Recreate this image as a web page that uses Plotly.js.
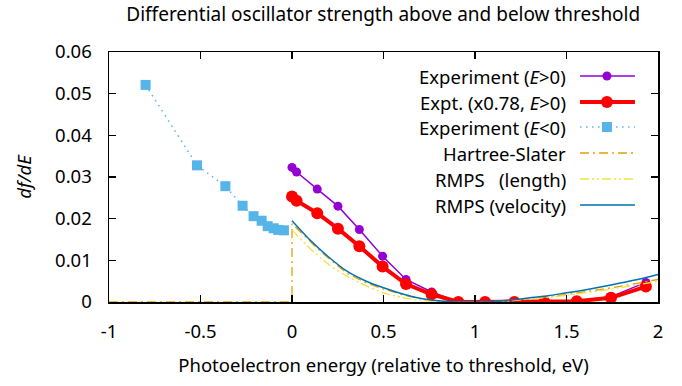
<!DOCTYPE html>
<html><head><meta charset="utf-8">
<script src="https://cdn.plot.ly/plotly-3.0.1.min.js"></script>
<style>body{margin:0;background:#fff}#c{width:682px;height:386px}</style>
</head><body><div id="c"></div>
<script>
// Experiment E>0
const expX = [0, 0.025, 0.138, 0.251, 0.368, 0.495, 0.623, 0.763, 0.909, 1.055, 1.215, 1.379, 1.556, 1.743, 1.934];
const expY = [0.0323, 0.0312, 0.0271, 0.0230, 0.0174, 0.0110, 0.0054, 0.0024, 0, 0, 0, 0, 0.0002, 0.0013, 0.0047];
// Expt. scaled x0.78
const scaledY = [0.0253, 0.0243, 0.0213, 0.0176, 0.0134, 0.0085, 0.0043, 0.00185, 0, 0, 0, 0, 0.0002, 0.0010, 0.0037];
// Experiment E<0
const negX = [-0.80, -0.519, -0.364, -0.27, -0.21, -0.166, -0.133, -0.10, -0.075, -0.044];
const negY = [0.0521, 0.0328, 0.0278, 0.0231, 0.0206, 0.0195, 0.0182, 0.0177, 0.0173, 0.0172];
// Theory
const hsX = [-1, 0, 0, 0.05, 0.1, 0.15, 0.2, 0.25, 0.3, 0.4, 0.5, 0.6, 0.7, 0.8, 0.9, 1.0, 1.1, 1.2, 1.3, 1.4, 1.5, 1.6, 1.7, 1.8, 1.9, 2.0];
const hsY = [0, 0, 0.0188, 0.0166, 0.0145, 0.0124, 0.0105, 0.0086, 0.0069, 0.0047, 0.0031, 0.0018, 0.0008, 0.0002, 0, 0, 0.0001, 0.0004, 0.0008, 0.0013, 0.0018, 0.0024, 0.0031, 0.0038, 0.0046, 0.0054];
const thX = [0, 0.1, 0.2, 0.3, 0.4, 0.5, 0.6, 0.7, 0.8, 0.9, 1.0, 1.1, 1.2, 1.3, 1.4, 1.5, 1.6, 1.7, 1.8, 1.9, 2.0];
const lenY = [0.0173, 0.0128, 0.0090, 0.0062, 0.0040, 0.0022, 0.0011, 0.0004, 0.0001, 0, 0, 0.0001, 0.0003, 0.0007, 0.0011, 0.0016, 0.0022, 0.0028, 0.0035, 0.0042, 0.0050];
const velY = [0.0195, 0.0148, 0.0108, 0.0074, 0.0051, 0.0034, 0.0020, 0.0009, 0.0003, 0, 0, 0.0001, 0.0005, 0.0010, 0.0015, 0.0022, 0.0029, 0.0037, 0.0046, 0.0055, 0.0066];
// Legend
const legendNames = ["Experiment (<i>E</i>>0)", "Expt. (x0.78, <i>E</i>>0)", "Experiment (<i>E</i><0)", "Hartree-Slater", "RMPS   (length)", "RMPS (velocity)"];

const FS = 18.5;
const C = {purple:'#9400D3', red:'#FF0000', sky:'#56B4E9', orange:'#E69F00', yellow:'#F0E442', blue:'#0072B2'};
const styles = [
  {mode:'lines+markers', line:{color:C.purple, width:1.5}, marker:{color:C.purple, size:9, symbol:'circle'}},
  {mode:'lines+markers', line:{color:C.red, width:4}, marker:{color:C.red, size:12, symbol:'circle'}},
  {mode:'lines+markers', line:{color:C.sky, width:1.5, dash:'1.5px,4.5px'}, marker:{color:C.sky, size:10, symbol:'square'}},
  {mode:'lines', line:{color:C.orange, width:1.3, dash:'9px,4px,2px,4px'}},
  {mode:'lines', line:{color:C.yellow, width:1.3, dash:'9px,3px,2px,3px,2px,3px', shape:'spline', smoothing:0.6}},
  {mode:'lines', line:{color:C.blue, width:1.5, shape:'spline', smoothing:0.6}}
];
const dataSets = [[expX, expY], [expX, scaledY], [negX, negY], [hsX, hsY], [thX, lenY], [thX, velY]];

const traces = dataSets.map((d, i) => Object.assign({type:'scatter', x:d[0], y:d[1], showlegend:false, hoverinfo:'skip'}, JSON.parse(JSON.stringify(styles[i]))));

// legend samples on an overlay axis
const rowY = [0.904, 0.80, 0.70, 0.596, 0.492, 0.388];
const annotations = [];
rowY.forEach((ry, i) => {
  const s = JSON.parse(JSON.stringify(styles[i]));
  if (s.line) { delete s.line.shape; delete s.line.smoothing; }
  if (s.mode === 'lines+markers') {
    traces.push({type:'scatter', x:[0.858, 0.958], y:[ry, ry], xaxis:'x2', yaxis:'y2', mode:'lines', line:s.line, showlegend:false, hoverinfo:'skip'});
    traces.push({type:'scatter', x:[0.907], y:[ry], xaxis:'x2', yaxis:'y2', mode:'markers', marker:s.marker, showlegend:false, hoverinfo:'skip'});
  } else {
    traces.push(Object.assign({type:'scatter', x:[0.858, 0.958], y:[ry, ry], xaxis:'x2', yaxis:'y2', showlegend:false, hoverinfo:'skip'}, s));
  }
  annotations.push({xref:'x2', yref:'y2', x:0.836, y:ry, text:legendNames[i], showarrow:false, xanchor:'right', yanchor:'middle', font:{size:FS, color:'#000'}});
});

const axisCommon = {showgrid:false, zeroline:false, showline:true, linecolor:'#000', linewidth:1.5, mirror:'ticks', ticks:'inside', ticklen:7, tickwidth:1.5, tickcolor:'#000', tickfont:{size:FS, color:'#000'}};

const layout = {
  width:682, height:386,
  margin:{l:109, r:24, t:52, b:84},
  paper_bgcolor:'#fff', plot_bgcolor:'#fff',
  font:{family:'"Noto Sans", "Open Sans", sans-serif', color:'#000'},
  title:{text:'Differential oscillator strength above and below threshold', font:{size:19, color:'#000'}, x:0.562, xanchor:'center', xref:'container', y:0.962, yanchor:'middle', yref:'container'},
  xaxis:Object.assign({}, axisCommon, {range:[-1, 2], tickvals:[-1,-0.5,0,0.5,1,1.5,2], ticktext:['-1','-0.5','0','0.5','1','1.5','2'], ticklabelstandoff:12, title:{text:'Photoelectron energy (relative to threshold, eV)', font:{size:FS}, standoff:17}}),
  yaxis:Object.assign({}, axisCommon, {range:[0, 0.06], tickvals:[0,0.01,0.02,0.03,0.04,0.05,0.06], ticktext:['0','0.01','0.02','0.03','0.04','0.05','0.06'], ticklabelstandoff:12, title:{text:'<i>df/dE</i>', font:{size:FS}, standoff:18}}),
  xaxis2:{overlaying:'x', anchor:'y2', range:[0,1], visible:false, fixedrange:true},
  yaxis2:{overlaying:'y', anchor:'x2', range:[0,1], visible:false, fixedrange:true},
  annotations:annotations,
  showlegend:false
};
Plotly.newPlot('c', traces, layout, {staticPlot:true});
</script></body></html>
